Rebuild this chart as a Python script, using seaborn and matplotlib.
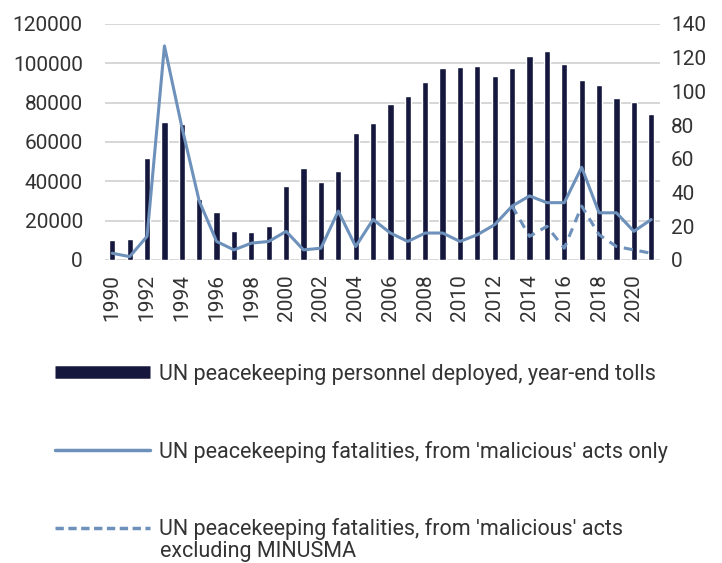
import numpy as np
import pandas as pd
import matplotlib
matplotlib.use("Agg")
import matplotlib.pyplot as plt
import seaborn as sns
from matplotlib.lines import Line2D

# ---------------------------------------------------------
# DATA
# ---------------------------------------------------------
years = list(range(1990, 2022))

personnel = [10000, 10700, 52000, 70000, 69000, 31000, 24500, 14500, 14000, 17500,
             37500, 47000, 39500, 45000, 64500, 69500, 79500, 83500, 90500, 97500,
             98000, 98500, 93500, 97500, 103500, 106500, 99500, 91500, 89000, 82500,
             80500, 74000]

fatalities = [4, 2, 14, 127, 79, 35, 11, 6, 10, 11,
              17, 6, 7, 29, 8, 24, 16, 11, 16, 16,
              11, 15, 21, 32, 38, 34, 34, 55, 28, 28,
              17, 24]

# excluding MINUSMA, only differs from 2013 on
fatalities_ex = [np.nan] * 23 + [32, 14, 20, 7, 32, 15, 8, 6, 4]

bar_label = "UN peacekeeping personnel deployed, year-end tolls"
line_label = "UN peacekeeping fatalities, from 'malicious' acts only"
dash_label = "UN peacekeeping fatalities, from 'malicious' acts"
dash_label2 = "excluding MINUSMA"

navy = "#15173d"
steel = "#6d91bb"
text_col = "#333333"

df = pd.DataFrame({"year": years, "personnel": personnel,
                   "fatalities": fatalities, "fatalities_ex": fatalities_ex})

# ---------------------------------------------------------
# PLOT
# ---------------------------------------------------------
sns.set_style("white")
plt.rcParams["font.family"] = ["Roboto", "DejaVu Sans"]

fig = plt.figure(figsize=(7.22, 5.63), dpi=100)
ax = fig.add_axes([0.1454, 0.5382, 0.914 - 0.1454, 0.9574 - 0.5382])

sns.barplot(data=df, x="year", y="personnel", native_scale=True,
            color=navy, saturation=1, width=0.36, ax=ax, zorder=2)

ax2 = ax.twinx()
sns.lineplot(data=df, x="year", y="fatalities_ex", color=steel, lw=2.2,
             linestyle=(0, (3, 2.2)), ax=ax2)
sns.lineplot(data=df, x="year", y="fatalities", color=steel, lw=2.2, ax=ax2)

ax.set_ylim(0, 120000)
ax2.set_ylim(0, 140)
ax.set_xlim(1990 - 0.42, 2021 + 0.5)
ax.set_yticks(range(0, 120001, 20000))
ax2.set_yticks(range(0, 141, 20))
ax.set_xticks(years[::2])
ax.set_xticklabels([str(y) for y in years[::2]], rotation=90)

ax.grid(axis="y", color="#d6d6d6", lw=1.4, zorder=0)
ax.set_axisbelow(True)
ax2.grid(False)
for a in (ax, ax2):
    for s in a.spines.values():
        s.set_visible(False)
    a.set_xlabel("")
    a.set_ylabel("")
ax.tick_params(axis="y", length=0, pad=16, labelsize=15, labelcolor=text_col)
ax.tick_params(axis="x", length=0, pad=10, labelsize=15, labelcolor=text_col)
ax2.tick_params(axis="y", length=0, pad=8, labelsize=15, labelcolor=text_col)

# legend below the chart
handles = [
    Line2D([0], [0], color=navy, lw=9, linestyle="-", solid_capstyle="butt"),
    Line2D([0], [0], color=steel, lw=2.5, linestyle="-"),
    Line2D([0], [0], color=steel, lw=2.5, linestyle=(0, (2.4, 1.3))),
]
fig.legend(handles, [bar_label, line_label, dash_label],
           loc="upper left", bbox_to_anchor=(55 / 722, 1 - 364 / 563),
           frameon=False, fontsize=15.5, handlelength=4.4, handletextpad=0.45,
           labelspacing=2.58, borderpad=0, borderaxespad=0, labelcolor=text_col)
fig.text(160 / 722, 1 - 552 / 563, dash_label2, fontsize=15.5, color=text_col,
         va="center", ha="left")

fig.savefig("out.png", dpi=100)
